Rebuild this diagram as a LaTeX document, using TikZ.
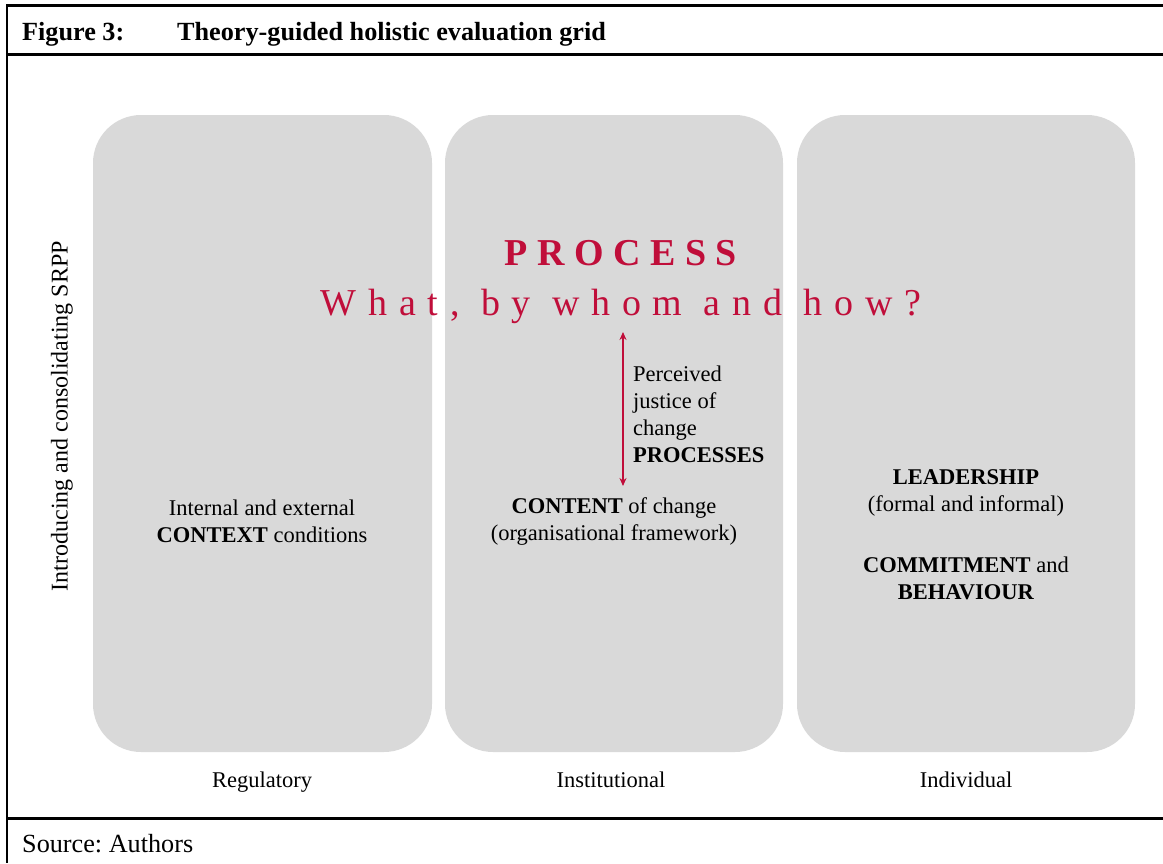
\documentclass[tikz,border=0pt]{standalone}
\usepackage{fontspec}
\setmainfont{Liberation Serif}
\newfontfamily\wideserif[LetterSpace=25]{Liberation Serif}
\newfontfamily\widerserif[LetterSpace=31]{Liberation Serif}
\usetikzlibrary{arrows.meta}
\definecolor{procred}{RGB}{192,14,58}
\definecolor{panelgray}{RGB}{217,217,217}
\frenchspacing

\begin{document}
\begin{tikzpicture}[x=1pt,y=-1pt]
\tikzstyle{every node}+=[inner sep=0pt]
\tikzstyle{panel}=[fill=panelgray, rounded corners=48pt]
\tikzstyle{body}=[font=\fontsize{22.5}{27}\selectfont, align=center]
\tikzstyle{frameline}=[black, line width=3pt]
\useasboundingbox (0,0) rectangle (1163,863);
% frame
\draw [frameline] (6,5) -- (1163,5);
\draw [frameline] (6,54) -- (1163,54);
\draw [frameline] (6,818) -- (1163,818);
\draw [black, line width=2pt] (7,4) -- (7,863);
\node (fignum) [anchor=base west, font=\bfseries\fontsize{26.2}{28}\selectfont] at (22,40) {Figure 3:};
\node (figtitle) [anchor=base west, font=\bfseries\fontsize{26.2}{28}\selectfont] at (177,40) {Theory-guided holistic evaluation grid};
\node (source) [anchor=base west, font=\fontsize{26.2}{28}\selectfont] at (22,852) {Source: Authors};
% panels
\fill [panel] (93,115) rectangle (432,752);
\fill [panel] (445,115) rectangle (783,752);
\fill [panel] (797,115) rectangle (1135,752);
% side label
\node (srpp) [body, font=\fontsize{24}{27}\selectfont, rotate=90] at (62,416) {Introducing and consolidating SRPP};
% process heading
\node (process) [anchor=base, procred, font=\wideserif\bfseries\fontsize{38}{40}\selectfont] at (621,265) {PROCESS};
\node (question) [anchor=base, procred, font=\widerserif\fontsize{38}{40}\selectfont] at (621,315) {What, by whom and how?};
% panel texts
\node (context) [body] at (262,521) {Internal and external\\\textbf{CONTEXT} conditions};
\node (content) [body] at (614,521) {\textbf{CONTENT} of change\\(organisational framework)};
\node (justice) [body, align=left, anchor=west] at (633,414) {Perceived\\justice of\\change\\\textbf{PROCESSES}};
\node (leader) [body] at (966,493) {\textbf{LEADERSHIP}\\(formal and informal)};
\node (commit) [body] at (966,578) {\textbf{COMMITMENT} and\\\textbf{BEHAVIOUR}};
\coordinate (arrtop) at (623,332);
\coordinate (arrbot) at (623,486);
\draw [procred, line width=1.3pt, {Stealth[length=8pt,width=7pt]}-{Stealth[length=8pt,width=7pt]}] (arrtop) -- (arrbot);
% levels
\node (regul) [body, anchor=base] at (262,787) {Regulatory};
\node (instit) [body, anchor=base] at (611,787) {Institutional};
\node (indiv) [body, anchor=base] at (966,787) {Individual};
\end{tikzpicture}
\end{document}
